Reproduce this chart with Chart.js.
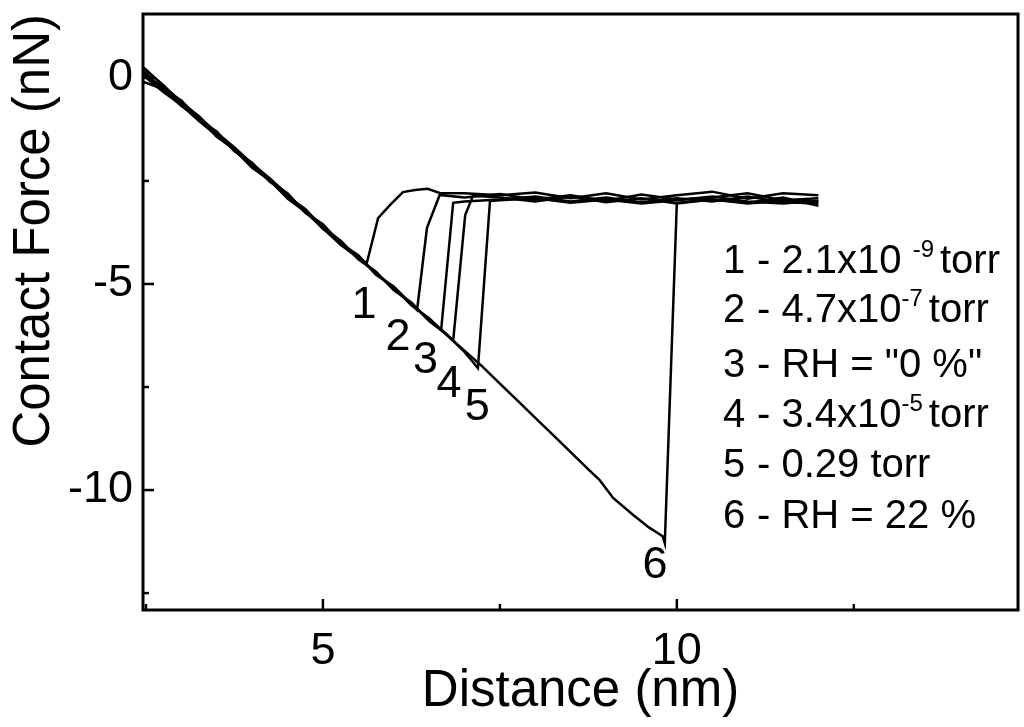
<!DOCTYPE html>
<html>
<head>
<meta charset="utf-8">
<script src="https://cdn.jsdelivr.net/npm/chart.js@4.4.0/dist/chart.umd.min.js"></script>
<style>
  html, body { margin: 0; padding: 0; background: #fff; }
  #chart { display: block; }
</style>
</head>
<body>
<canvas id="chart" width="1024" height="727"></canvas>
<script>
// force curves, [distance nm, force nN]
const curve1 = [[2.47,0.22],[2.75,-0.18],[3.0,-0.62],[3.25,-0.93],[3.5,-1.38],[3.75,-1.70],[4.0,-2.14],[4.25,-2.45],[4.5,-2.88],[4.75,-3.18],[5.0,-3.63],[5.25,-3.95],[5.5,-4.38],[5.62,-4.49],[5.78,-3.40],[5.95,-3.08],[6.13,-2.77],[6.3,-2.72],[6.48,-2.69],[6.65,-2.79],[7.0,-2.80],[7.5,-2.85],[8.0,-2.78],[8.5,-2.92],[9.0,-2.80],[9.5,-2.95],[10.0,-2.85],[10.5,-2.76],[11.0,-2.93],[11.5,-2.80],[12.0,-2.85]];
const curve2 = [[2.47,0.15],[2.75,-0.30],[3.0,-0.55],[3.25,-1.02],[3.5,-1.30],[3.75,-1.78],[4.0,-2.06],[4.25,-2.52],[4.5,-2.80],[4.75,-3.27],[5.0,-3.55],[5.25,-4.02],[5.5,-4.30],[5.75,-4.78],[6.0,-5.06],[6.33,-5.63],[6.47,-3.64],[6.65,-2.84],[7.0,-2.90],[7.5,-2.82],[8.0,-2.95],[8.5,-2.85],[9.0,-2.98],[9.5,-2.83],[10.0,-2.95],[10.5,-2.90],[11.0,-2.80],[11.5,-2.97],[12.0,-2.92]];
const curve3 = [[2.47,0.05],[2.75,-0.35],[3.0,-0.66],[3.25,-1.05],[3.5,-1.40],[3.75,-1.75],[4.0,-2.15],[4.25,-2.50],[4.5,-2.90],[4.75,-3.20],[5.0,-3.66],[5.25,-3.96],[5.5,-4.40],[5.75,-4.70],[6.0,-5.15],[6.25,-5.45],[6.5,-5.90],[6.67,-6.12],[6.84,-3.03],[7.0,-3.00],[7.5,-2.95],[8.0,-2.88],[8.5,-3.00],[9.0,-2.90],[9.5,-3.02],[10.0,-2.92],[10.5,-3.00],[11.0,-2.88],[11.5,-3.02],[12.0,-3.05]];
const curve4 = [[2.47,0.25],[2.75,-0.20],[3.0,-0.57],[3.25,-0.95],[3.5,-1.33],[3.75,-1.69],[4.0,-2.08],[4.25,-2.44],[4.5,-2.83],[4.75,-3.24],[5.0,-3.58],[5.25,-4.00],[5.5,-4.33],[5.75,-4.75],[6.0,-5.08],[6.25,-5.52],[6.5,-5.83],[6.84,-6.38],[7.01,-3.33],[7.12,-2.86],[7.5,-2.90],[8.0,-3.00],[8.5,-2.88],[9.0,-3.02],[9.5,-2.92],[10.0,-3.05],[10.5,-2.95],[11.0,-3.03],[11.5,-2.90],[12.0,-3.10]];
const curve5 = [[2.47,-0.10],[2.75,-0.28],[3.0,-0.68],[3.25,-0.98],[3.5,-1.43],[3.75,-1.74],[4.0,-2.18],[4.25,-2.48],[4.5,-2.93],[4.75,-3.25],[5.0,-3.65],[5.25,-4.05],[5.5,-4.37],[5.75,-4.72],[6.0,-5.13],[6.25,-5.47],[6.5,-5.88],[6.75,-6.22],[7.0,-6.65],[7.19,-7.04],[7.36,-2.99],[7.5,-2.97],[8.0,-2.92],[8.5,-3.03],[9.0,-2.95],[9.5,-3.05],[10.0,-2.97],[10.5,-2.88],[11.0,-3.00],[11.5,-3.05],[12.0,-2.98]];
const curve6 = [[2.47,0.10],[2.75,-0.25],[3.0,-0.61],[3.25,-1.00],[3.5,-1.36],[3.75,-1.73],[4.0,-2.11],[4.25,-2.49],[4.5,-2.86],[4.75,-3.23],[5.0,-3.61],[5.25,-3.99],[5.5,-4.36],[5.75,-4.74],[6.0,-5.11],[6.25,-5.49],[6.5,-5.86],[6.75,-6.24],[7.0,-6.62],[7.25,-7.00],[7.5,-7.42],[7.75,-7.83],[8.0,-8.25],[8.25,-8.66],[8.5,-9.08],[8.75,-9.50],[8.91,-9.76],[9.1,-10.19],[9.38,-10.60],[9.6,-10.90],[9.8,-11.12],[9.83,-11.29],[10.0,-3.03],[10.5,-2.95],[11.0,-3.05],[11.5,-2.98],[12.0,-3.00]];

const curves = [curve1, curve2, curve3, curve4, curve5, curve6];

// curve numbers written next to the pull-off points
const curveLabels = ['1', '2', '3', '4', '5', '6'];
const curveLabelX = [5.58, 6.06, 6.45, 6.78, 7.18, 9.69];
const curveLabelY = [-5.53, -6.31, -6.87, -7.45, -8.01, -11.84];

// legend text: number, text, superscript, tail
const legendNumbers = ['1', '2', '3', '4', '5', '6'];
const legendTexts = ['- 2.1x10 ', '- 4.7x10', '- RH = "0 %"', '- 3.4x10', '- 0.29 torr', '- RH = 22 %'];
const legendSups = ['-9', '-7', '', '-5', '', ''];
const legendTails = ['torr', 'torr', '', 'torr', '', ''];

const xMajorTicks = [5, 10];
const xMinorTicks = [2.5, 7.5, 12.5];
const yMajorTicks = [0, -5, -10];
const yMinorTicks = [-2.5, -7.5, -12.5];

const FONT = '"Liberation Sans", Arial, Helvetica, sans-serif';

const overlay = {
    id: 'overlay',
    afterDatasetsDraw(chart) {
        const { ctx, chartArea: a, scales: { x, y } } = chart;
        ctx.save();
        ctx.strokeStyle = '#000';
        ctx.fillStyle = '#000';

        // frame
        ctx.lineWidth = 3;
        ctx.strokeRect(a.left, a.top, a.right - a.left, a.bottom - a.top);

        // inward ticks
        const tick = (px, py, dx, dy) => {
            ctx.beginPath();
            ctx.moveTo(px, py);
            ctx.lineTo(px + dx, py + dy);
            ctx.stroke();
        };
        ctx.lineWidth = 2.5;
        xMajorTicks.forEach(v => tick(x.getPixelForValue(v), a.bottom, 0, -11));
        xMinorTicks.forEach(v => tick(x.getPixelForValue(v), a.bottom, 0, -6));
        yMajorTicks.forEach(v => tick(a.left, y.getPixelForValue(v), 11, 0));
        yMinorTicks.forEach(v => tick(a.left, y.getPixelForValue(v), 6, 0));

        // curve numbers
        ctx.font = '45px ' + FONT;
        ctx.textAlign = 'center';
        ctx.textBaseline = 'middle';
        curveLabels.forEach((t, i) => {
            ctx.fillText(t, x.getPixelForValue(curveLabelX[i]), y.getPixelForValue(curveLabelY[i]));
        });

        // legend
        const baselines = [273, 322, 377, 427, 477, 528];
        ctx.textAlign = 'left';
        ctx.textBaseline = 'alphabetic';
        legendNumbers.forEach((n, i) => {
            const base = baselines[i];
            ctx.font = '40px ' + FONT;
            ctx.fillText(n, 723, base);
            ctx.fillText(legendTexts[i], 757, base);
            let cx = 757 + ctx.measureText(legendTexts[i]).width;
            if (legendSups[i]) {
                ctx.font = '24px ' + FONT;
                ctx.fillText(legendSups[i], cx, base - 16);
                cx += ctx.measureText(legendSups[i]).width + 6;
                ctx.font = '40px ' + FONT;
                ctx.fillText(legendTails[i], cx, base);
            }
        });
        ctx.restore();
    }
};

new Chart(document.getElementById('chart'), {
    type: 'line',
    data: {
        datasets: curves.map(c => ({
            data: c.map(p => ({ x: p[0], y: p[1] })),
            borderColor: '#000',
            borderWidth: 2.5,
            pointRadius: 0,
            fill: false,
            tension: 0
        }))
    },
    options: {
        responsive: false,
        animation: false,
        layout: { padding: { top: 14, right: 6, left: 0, bottom: 0 } },
        plugins: { legend: { display: false }, tooltip: { enabled: false } },
        scales: {
            x: {
                type: 'linear',
                min: 2.458,
                max: 14.82,
                grid: { display: false, drawTicks: false },
                border: { display: false },
                afterBuildTicks: s => { s.ticks = xMajorTicks.map(v => ({ value: v })); },
                afterFit: s => {
                    s.height = 117;
                    s.paddingLeft = 0;
                    s.paddingRight = 0;
                },
                ticks: {
                    color: '#000',
                    padding: 15,
                    font: { family: FONT, size: 45 },
                    callback: v => String(v)
                },
                title: {
                    display: true,
                    text: 'Distance (nm)',
                    color: '#000',
                    padding: { top: 0, bottom: 4 },
                    font: { family: FONT, size: 51 }
                }
            },
            y: {
                type: 'linear',
                min: -12.91,
                max: 1.55,
                grid: { display: false, drawTicks: false },
                border: { display: false },
                afterBuildTicks: s => { s.ticks = yMajorTicks.map(v => ({ value: v })); },
                afterFit: s => {
                    s.width = 143;
                    s.paddingTop = 0;
                    s.paddingBottom = 0;
                },
                ticks: {
                    color: '#000',
                    padding: 10,
                    font: { family: FONT, size: 45 },
                    callback: v => String(v)
                },
                title: {
                    display: true,
                    text: 'Contact Force (nN)',
                    align: 'end',
                    color: '#000',
                    padding: { top: 4, bottom: 0 },
                    font: { family: FONT, size: 51 }
                }
            }
        }
    },
    plugins: [overlay]
});
</script>
</body>
</html>
